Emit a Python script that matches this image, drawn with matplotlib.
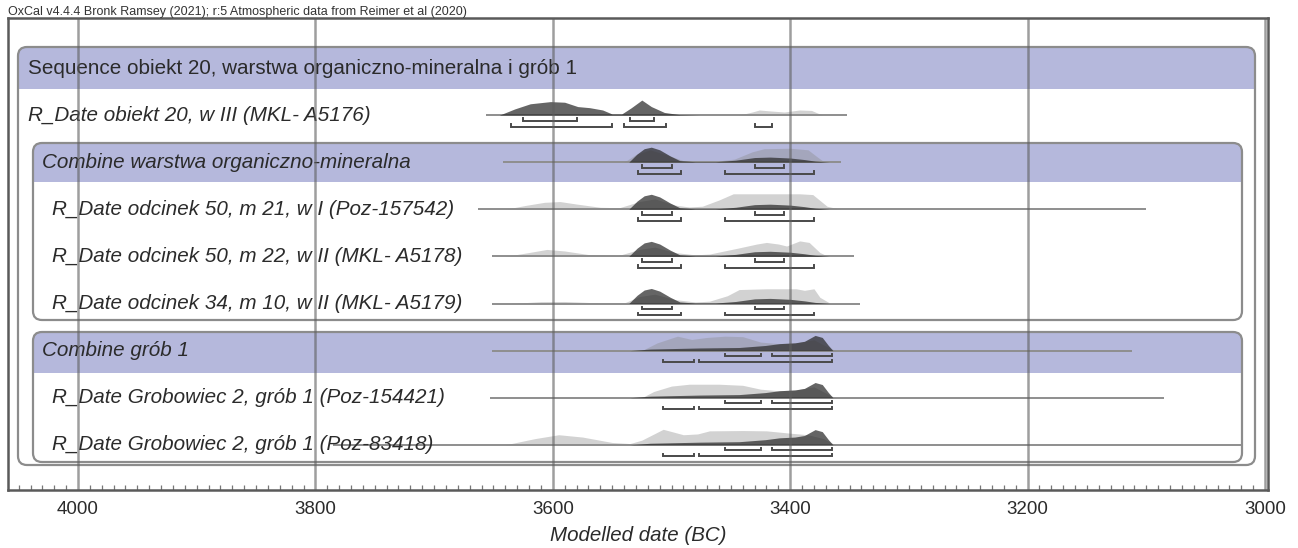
import matplotlib
matplotlib.use("Agg")
import matplotlib.pyplot as plt
from matplotlib.patches import FancyBboxPatch, Rectangle
from matplotlib.ticker import MultipleLocator

plt.rcParams['font.family'] = ['Liberation Sans', 'DejaVu Sans']

# ---------------------------------------------------------------- data (years BC)
year_ticks = [4000, 3800, 3600, 3400, 3200, 3000]

row_labels = [
    "Sequence obiekt 20, warstwa organiczno-mineralna i grób 1",
    "R_Date obiekt 20, w III (MKL- A5176)",
    "Combine warstwa organiczno-mineralna",
    "R_Date odcinek 50, m 21, w I (Poz-157542)",
    "R_Date odcinek 50, m 22, w II (MKL- A5178)",
    "R_Date odcinek 34, m 10, w II (MKL- A5179)",
    "Combine grób 1",
    "R_Date Grobowiec 2, grób 1 (Poz-154421)",
    "R_Date Grobowiec 2, grób 1 (Poz-83418)",
]

# extent of the calibrated support line drawn for each row (from, to)
row_support = [
    None,
    (3656, 3352),
    (3642, 3357),
    (3663, 3100),
    (3651, 3346),
    (3651, 3341),
    (3651, 3112),
    (3653, 3085),
    (3785, 2990),
]

# obiekt 20, w III
obiekt20_lik_yr = [3443, 3432, 3426, 3417, 3405, 3392, 3382, 3373]
obiekt20_lik_p = [0.00, 0.20, 0.33, 0.27, 0.20, 0.33, 0.30, 0.00]
obiekt20_post_yr = [3645, 3632, 3619, 3602, 3590, 3579, 3569, 3558, 3550,
                    3542, 3534, 3525, 3517, 3506, 3493, 3476]
obiekt20_post_p = [0.00, 0.40, 0.73, 0.87, 0.83, 0.55, 0.48, 0.33, 0.07,
                   0.07, 0.47, 0.97, 0.55, 0.17, 0.03, 0.00]
obiekt20_r68 = [(3625, 3580), (3535, 3515)]
obiekt20_r95 = [(3635, 3550), (3540, 3505), (3430, 3415)]

# Combine warstwa organiczno-mineralna (posterior shared by its three dates)
warstwa_post_yr = [3536, 3529, 3523, 3517, 3510, 3501, 3493, 3480, 3463,
                   3446, 3430, 3417, 3400, 3388, 3379, 3367]
warstwa_post_p = [0.00, 0.53, 0.87, 0.97, 0.80, 0.40, 0.10, 0.03, 0.03,
                  0.13, 0.30, 0.33, 0.27, 0.17, 0.07, 0.00]
warstwa_lik_yr = [3540, 3530, 3518, 3505, 3490, 3464, 3447, 3432, 3422,
                  3400, 3385, 3377, 3371]
warstwa_lik_p = [0.00, 0.50, 0.80, 0.50, 0.10, 0.05, 0.20, 0.67, 0.87,
                 0.90, 0.80, 0.33, 0.00]
warstwa_r68 = [(3525, 3500), (3430, 3405)]
warstwa_r95 = [(3528, 3492), (3455, 3380)]

m21_lik_yr = [3640, 3623, 3607, 3594, 3581, 3560, 3544, 3527, 3514, 3497,
              3485, 3474, 3460, 3448, 3420, 3392, 3381, 3369, 3358]
m21_lik_p = [0.00, 0.25, 0.45, 0.50, 0.35, 0.13, 0.10, 0.50, 0.67, 0.27,
             0.15, 0.20, 0.60, 1.00, 1.00, 1.00, 0.95, 0.20, 0.00]

m22_lik_yr = [3640, 3620, 3605, 3590, 3570, 3545, 3527, 3514, 3497, 3480,
              3468, 3443, 3428, 3420, 3410, 3403, 3392, 3384, 3375, 3368]
m22_lik_p = [0.00, 0.25, 0.45, 0.35, 0.12, 0.05, 0.45, 0.60, 0.25, 0.10,
             0.15, 0.55, 0.80, 0.90, 0.80, 0.67, 1.00, 0.90, 0.25, 0.00]

m10_lik_yr = [3635, 3610, 3590, 3565, 3540, 3527, 3514, 3497, 3480, 3468,
              3453, 3443, 3420, 3395, 3388, 3380, 3375, 3366]
m10_lik_p = [0.00, 0.12, 0.13, 0.05, 0.03, 0.45, 0.60, 0.25, 0.10, 0.15,
             0.50, 0.90, 0.95, 0.95, 0.85, 0.95, 0.40, 0.00]

# Combine grób 1 (posterior shared by its two dates)
grob_post_yr = [3535, 3518, 3476, 3443, 3421, 3409, 3396, 3388, 3379,
                3373, 3368, 3364]
grob_post_p = [0.00, 0.10, 0.17, 0.20, 0.33, 0.45, 0.50, 0.60, 0.98,
               0.85, 0.35, 0.00]
grob_lik_yr = [3525, 3512, 3495, 3483, 3470, 3455, 3440, 3425, 3410, 3395,
               3380, 3370, 3362]
grob_lik_p = [0.00, 0.50, 0.93, 0.72, 0.85, 0.93, 0.90, 0.55, 0.45, 0.50,
              0.70, 0.30, 0.00]
grob_r68 = [(3455, 3425), (3415, 3365)]
grob_r95 = [(3507, 3481), (3477, 3365)]

poz154421_lik_yr = [3525, 3515, 3500, 3485, 3460, 3440, 3425, 3410, 3395,
                    3380, 3370, 3362]
poz154421_lik_p = [0.00, 0.40, 0.75, 0.87, 0.87, 0.80, 0.55, 0.45, 0.50,
                   0.70, 0.30, 0.00]

poz83418_lik_yr = [3640, 3615, 3595, 3575, 3550, 3535, 3525, 3507, 3490,
                   3478, 3468, 3440, 3420, 3400, 3385, 3372, 3362]
poz83418_lik_p = [0.00, 0.40, 0.65, 0.50, 0.15, 0.08, 0.30, 1.00, 0.65,
                  0.70, 0.90, 0.92, 0.90, 0.75, 0.65, 0.40, 0.00]

# per-row curves: (likelihood, posterior, 68.2 % ranges, 95.4 % ranges)
row_curves = [
    None,
    ((obiekt20_lik_yr, obiekt20_lik_p), (obiekt20_post_yr, obiekt20_post_p), obiekt20_r68, obiekt20_r95),
    ((warstwa_lik_yr, warstwa_lik_p), (warstwa_post_yr, warstwa_post_p), warstwa_r68, warstwa_r95),
    ((m21_lik_yr, m21_lik_p), (warstwa_post_yr, warstwa_post_p), warstwa_r68, warstwa_r95),
    ((m22_lik_yr, m22_lik_p), (warstwa_post_yr, warstwa_post_p), warstwa_r68, warstwa_r95),
    ((m10_lik_yr, m10_lik_p), (warstwa_post_yr, warstwa_post_p), warstwa_r68, warstwa_r95),
    ((grob_lik_yr, grob_lik_p), (grob_post_yr, grob_post_p), grob_r68, grob_r95),
    ((poz154421_lik_yr, poz154421_lik_p), (grob_post_yr, grob_post_p), grob_r68, grob_r95),
    ((poz83418_lik_yr, poz83418_lik_p), (grob_post_yr, grob_post_p), grob_r68, grob_r95),
]

# ---------------------------------------------------------------- layout
W, H = 1298, 548
AX_L, AX_R, AX_T, AX_B = 8, 1268, 18, 490      # frame in pixels
X4000, X3000 = 78, 1265                          # pixel columns of 4000 / 3000 BC
PX_PER_YR = (X3000 - X4000) / 1000.0


def px2yr(px):
    return 4000 - (px - X4000) / PX_PER_YR


ROW0, ROW_STEP = 68, 47.1
row_y = [ROW0 + ROW_STEP * i for i in range(len(row_labels))]
row_indent = [28, 28, 42, 52, 52, 52, 42, 52, 52]
row_upright = [True] + [False] * 8
PEAK_PX = 15.5

BAND = '#b5b8dc'
EDGE = '#8c8c8c'
TXT = '#2b2b2b'

fig = plt.figure(figsize=(W / 100, H / 100), dpi=100)
ax = fig.add_axes([AX_L / W, 1 - AX_B / H, (AX_R - AX_L) / W, (AX_B - AX_T) / H])
ax.set_xlim(px2yr(AX_L), px2yr(AX_R))
ax.set_ylim(AX_B, AX_T)


def group_box(x0, x1, y0, y1, band_bottom, z):
    ya, yb = px2yr(x0), px2yr(x1)
    r = 9.0
    kw = dict(boxstyle=f"round,pad=0,rounding_size={r / PX_PER_YR}",
              mutation_aspect=PX_PER_YR)
    ax.add_patch(FancyBboxPatch((yb, y0), ya - yb, y1 - y0, facecolor='white',
                                edgecolor='none', zorder=z, **kw))
    ax.add_patch(FancyBboxPatch((yb, y0), ya - yb, band_bottom - y0, facecolor=BAND,
                                edgecolor='none', zorder=z + 0.1, **kw))
    ax.add_patch(Rectangle((yb, y0 + r), ya - yb, band_bottom - y0 - r, facecolor=BAND,
                           edgecolor='none', zorder=z + 0.1))
    ax.add_patch(FancyBboxPatch((yb, y0), ya - yb, y1 - y0, facecolor='none',
                                edgecolor=EDGE, lw=1.6, zorder=z + 0.2, **kw))


group_box(18, 1255, 47, 465, 89, 1)
group_box(33, 1242, 143, 320, 182, 2)
group_box(33, 1242, 332, 462, 373, 2)

for i, label in enumerate(row_labels):
    y = row_y[i]
    ax.text(px2yr(row_indent[i]), y, label, ha='left', va='center',
            fontsize=14.9, color=TXT, style='normal' if row_upright[i] else 'italic',
            zorder=6)
    if row_curves[i] is None:
        continue
    (lyr, lp), (pyr, pp), r68, r95 = row_curves[i]
    a, b = row_support[i]
    clip_l = px2yr(1242)
    ax.plot([a, max(b, clip_l)], [y, y], color='#8e8e8e', lw=1.4, zorder=3,
            solid_capstyle='butt')
    ax.fill_between(lyr, y, [y - PEAK_PX * v for v in lp], color='#8a8a8a',
                    alpha=0.38, lw=0, zorder=4)
    ax.fill_between(pyr, y, [y - PEAK_PX * v for v in pp], color='#2a2a2a',
                    alpha=0.72, lw=0, zorder=4.5)
    for dy, ranges in ((5.5, r68), (11.5, r95)):
        for s, e in ranges:
            ax.plot([s, s, e, e], [y + dy - 2.5, y + dy, y + dy, y + dy - 2.5],
                    color='#4a4a4a', lw=1.4, zorder=5, solid_joinstyle='miter')

# year grid
for t in year_ticks:
    ax.axvline(t, color='#5e5e5e', lw=1.8, alpha=0.6, zorder=8)

ax.set_xticks(year_ticks)
ax.set_xticklabels([str(t) for t in year_ticks], fontsize=13.5, color=TXT)
ax.xaxis.set_minor_locator(MultipleLocator(10))
ax.tick_params(axis='x', which='major', direction='in', length=0, pad=8)
ax.tick_params(axis='x', which='minor', direction='in', length=3.5, width=0.9, color='#777777')
ax.set_yticks([])
for s in ax.spines.values():
    s.set_color('#5a5a5a')
    s.set_linewidth(1.8)
ax.set_xlabel('Modelled date (BC)', fontsize=14.8, style='italic', color=TXT, labelpad=6)

fig.text(AX_L / W, 1 - 12 / H,
         'OxCal v4.4.4 Bronk Ramsey (2021); r:5 Atmospheric data from Reimer et al (2020)',
         fontsize=9.0, color='#333333', va='center', ha='left')

fig.savefig('out.png', dpi=100)
